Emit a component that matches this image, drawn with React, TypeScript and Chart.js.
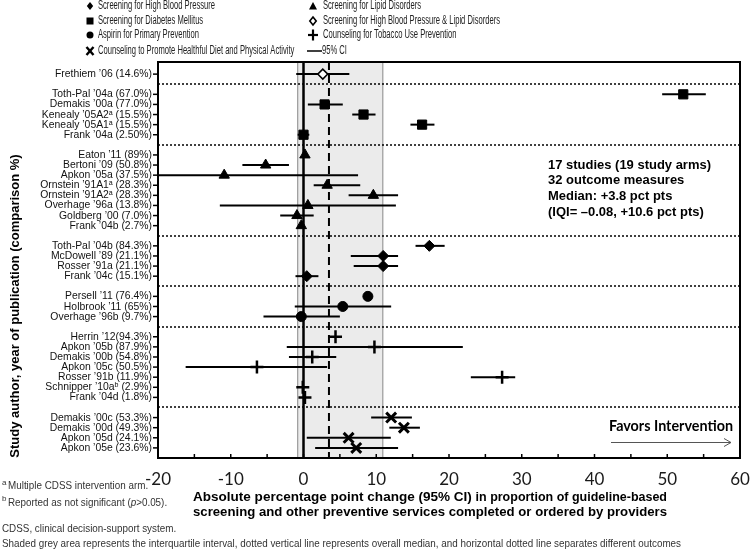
import React, { useEffect, useRef } from "react";
import { Chart, registerables } from "chart.js";

Chart.register(...registerables);

// ---------------- DATA ----------------
const rowLabels: string[] = [
  "Frethiem ’06 (14.6%)",
  "",
  "Toth-Pal ’04a (67.0%)",
  "Demakis ’00a (77.0%)",
  "Kenealy ’05A2ᵃ (15.5%)",
  "Kenealy ’05A1ᵃ (15.5%)",
  "Frank ’04a (2.50%)",
  "",
  "Eaton ’11 (89%)",
  "Bertoni ’09 (50.8%)",
  "Apkon ’05a (37.5%)",
  "Ornstein ’91A1ᵃ (28.3%)",
  "Ornstein ’91A2ᵃ (28.3%)",
  "Overhage ’96a (13.8%)",
  "Goldberg ’00 (7.0%)",
  "Frank ’04b (2.7%)",
  "",
  "Toth-Pal ’04b (84.3%)",
  "McDowell ’89 (21.1%)",
  "Rosser ’91a (21.1%)",
  "Frank ’04c (15.1%)",
  "",
  "Persell ’11 (76.4%)",
  "Holbrook ’11 (65%)",
  "Overhage ’96b (9.7%)",
  "",
  "Herrin ’12(94.3%)",
  "Apkon ’05b (87.9%)",
  "Demakis ’00b (54.8%)",
  "Apkon ’05c (50.5%)",
  "Rosser ’91b (11.9%)",
  "Schnipper ’10aᵇ (2.9%)",
  "Frank ’04d (1.8%)",
  "",
  "Demakis ’00c (53.3%)",
  "Demakis ’00d (49.3%)",
  "Apkon ’05d (24.1%)",
  "Apkon ’05e (23.6%)",
];

// outcome index per row (-1 = separator row)
const rowOutcome: number[] = [
  3, -1, 2, 2, 2, 2, 2, -1, 1, 1, 1, 1, 1, 1, 1, 1, -1, 0, 0, 0, 0, -1, 4, 4, 4, -1,
  5, 5, 5, 5, 5, 5, 5, -1, 6, 6, 6, 6,
];

const effect: (number | null)[] = [
  2.65, null, 52.2, 2.9, 8.25, 16.3, 0.0, null, 0.2, -5.2, -10.9, 3.25, 9.6, 0.6, -0.9, -0.3,
  null, 17.3, 10.95, 10.95, 0.45, null, 8.85, 5.4, -0.3, null, 4.4, 9.75, 1.2, -6.4, 27.3, -0.1,
  0.2, null, 12.05, 13.8, 6.2, 7.25,
];

const ciLow: (number | null)[] = [
  -1.0, null, 49.3, 0.6, 6.7, 14.7, -0.8, null, null, -8.4, -20, 1.4, 6.2, -11.5, -3.2, null,
  null, 15.4, 6.5, 6.9, -1.1, null, null, -1.2, -5.5, null, null, -2.3, -2.0, -16.2, 23.0, null,
  null, null, 9.3, 11.8, 0.45, 1.6,
];

const ciHigh: (number | null)[] = [
  6.3, null, 55.3, 5.4, 9.9, 18.0, 0.8, null, null, -2.0, 7.5, 7.8, 13.0, 12.7, 1.4, null,
  null, 19.4, 13.0, 13.0, 2.05, null, null, 12.05, 5.0, null, null, 21.9, 4.5, 3.25, 29.1, null,
  null, null, 14.9, 16.0, 12.0, 13.0,
];

const outcomeNames: string[] = [
  "Screening for High Blood Pressure",
  "Screening for Lipid Disorders",
  "Screening for Diabetes Mellitus",
  "Screening for High Blood Pressure & Lipid Disorders",
  "Aspirin for Primary Prevention",
  "Counseling for Tobacco Use Prevention",
  "Counseling to Promote Healthful Diet and Physical Activity",
];
const ciLegendLabel = "95% CI";

const medianLine = 3.5;
const shadeRange: number[] = [-0.8, 10.9];
const xTickLabels: number[] = [-20, -10, 0, 10, 20, 30, 40, 50, 60];

const summaryLines: string[] = [
  "17 studies (19 study arms)",
  "32 outcome measures",
  "Median: +3.8 pct pts",
  "(IQI= –0.08, +10.6 pct pts)",
];

const yTitle = "Study author, year of publication (comparison %)";
const xTitleA = "Absolute percentage point change (95% CI) ";
const xTitleB = "in proportion of guideline-based";
const xTitle2 = "screening and other preventive services completed or ordered by providers";
const favorsText = "Favors Intervention";
const footA = "Multiple CDSS intervention arm.";
const footB1 = "Reported as not significant (";
const footB2 = "p";
const footB3 = ">0.05).";
const footC = "CDSS, clinical decision-support system.";
const footD =
  "Shaded grey area represents the interquartile interval, dotted vertical line represents overall median, and horizontal dotted line separates different outcomes";

// ---------------- STYLES ----------------
const STYLE = [
  { shape: "rectRot", r: 5.5, fill: "#000", bw: 1 },
  { shape: "triangle", r: 6, fill: "#000", bw: 1 },
  { shape: "rect", r: 6.5, fill: "#000", bw: 1 },
  { shape: "rectRot", r: 5, fill: "#fff", bw: 1.5 },
  { shape: "circle", r: 5, fill: "#000", bw: 1 },
  { shape: "cross", r: 6.5, fill: "#000", bw: 2.5 },
  { shape: "crossRot", r: 7, fill: "#000", bw: 3 },
];

const SANS = "'Liberation Sans', Arial, sans-serif";

function fitScale(ctx: CanvasRenderingContext2D, text: string, font: string, target: number) {
  ctx.save();
  ctx.font = font;
  const w = ctx.measureText(text).width;
  ctx.restore();
  return w > 0 ? target / w : 1;
}

function drawText(
  ctx: CanvasRenderingContext2D,
  text: string,
  x: number,
  y: number,
  font: string,
  sx = 1,
  align: CanvasTextAlign = "left",
  color = "#000"
) {
  ctx.save();
  ctx.font = font;
  ctx.fillStyle = color;
  ctx.textAlign = align;
  ctx.textBaseline = "middle";
  ctx.translate(x, y);
  ctx.scale(sx, 1);
  ctx.fillText(text, 0, 0);
  const w = ctx.measureText(text).width * sx;
  ctx.restore();
  return w;
}

function line(ctx: CanvasRenderingContext2D, x1: number, y1: number, x2: number, y2: number) {
  ctx.beginPath();
  ctx.moveTo(x1, y1);
  ctx.lineTo(x2, y2);
  ctx.stroke();
}

function legendMarker(ctx: CanvasRenderingContext2D, k: number, x: number, y: number) {
  ctx.save();
  ctx.fillStyle = "#000";
  ctx.strokeStyle = "#000";
  ctx.beginPath();
  if (k === 0 || k === 3) {
    const r = 4;
    ctx.moveTo(x, y - r);
    ctx.lineTo(x + r * 0.8, y);
    ctx.lineTo(x, y + r);
    ctx.lineTo(x - r * 0.8, y);
    ctx.closePath();
    if (k === 0) ctx.fill();
    else {
      ctx.fillStyle = "#fff";
      ctx.fill();
      ctx.lineWidth = 1.6;
      ctx.stroke();
    }
  } else if (k === 1) {
    ctx.moveTo(x, y - 4);
    ctx.lineTo(x + 4, y + 3.5);
    ctx.lineTo(x - 4, y + 3.5);
    ctx.closePath();
    ctx.fill();
  } else if (k === 2) {
    ctx.fillRect(x - 3.5, y - 3.5, 7, 7);
  } else if (k === 4) {
    ctx.arc(x, y, 3.5, 0, Math.PI * 2);
    ctx.fill();
  } else if (k === 5) {
    ctx.lineWidth = 2.2;
    line(ctx, x - 5, y, x + 5, y);
    line(ctx, x, y - 5.5, x, y + 5.5);
  } else if (k === 6) {
    ctx.lineWidth = 2.4;
    line(ctx, x - 3.5, y - 4, x + 3.5, y + 4);
    line(ctx, x + 3.5, y - 4, x - 3.5, y + 4);
  }
  ctx.restore();
}

const decoPlugin = {
  id: "deco",
  beforeDatasetsDraw(chart: any) {
    const { ctx, chartArea: a, scales } = chart;
    const xs = scales.x;
    const ys = scales.y;
    ctx.save();
    // shaded IQR
    const s0 = xs.getPixelForValue(shadeRange[0]);
    const s1 = xs.getPixelForValue(shadeRange[1]);
    ctx.fillStyle = "#ebebeb";
    ctx.fillRect(s0, a.top, s1 - s0, a.bottom - a.top);
    ctx.strokeStyle = "#9a9a9a";
    ctx.lineWidth = 1.2;
    line(ctx, s0, a.top, s0, a.bottom);
    line(ctx, s1, a.top, s1, a.bottom);
    // separators
    ctx.strokeStyle = "#000";
    ctx.lineWidth = 1.5;
    ctx.setLineDash([2, 2]);
    rowOutcome.forEach((o, i) => {
      if (o < 0) {
        const py = Math.round(ys.getPixelForValue(i));
        line(ctx, a.left, py, a.right, py);
      }
    });
    // median dashed
    ctx.lineWidth = 2;
    ctx.setLineDash([8, 5]);
    const mx = xs.getPixelForValue(medianLine);
    line(ctx, mx, a.top, mx, a.bottom);
    // zero line
    ctx.setLineDash([]);
    ctx.lineWidth = 2.5;
    const zx = xs.getPixelForValue(0);
    line(ctx, zx, a.top, zx, a.bottom);
    // CIs
    ctx.lineWidth = 2;
    ctx.beginPath();
    ctx.rect(a.left, a.top, a.right - a.left, a.bottom - a.top);
    ctx.clip();
    rowLabels.forEach((_, i) => {
      const lo = ciLow[i];
      const hi = ciHigh[i];
      if (lo === null || hi === null) return;
      const py = ys.getPixelForValue(i);
      line(ctx, xs.getPixelForValue(lo), py, xs.getPixelForValue(hi), py);
    });
    ctx.restore();
  },
  afterDatasetsDraw(chart: any) {
    const { ctx, chartArea: a, scales } = chart;
    const xs = scales.x;
    const ys = scales.y;
    ctx.save();
    // border
    ctx.strokeStyle = "#000";
    ctx.lineWidth = 2;
    ctx.strokeRect(a.left, a.top, a.right - a.left, a.bottom - a.top);
    // y ticks + labels
    const labFont = `11px ${SANS}`;
    const labSx = fitScale(ctx, rowLabels[0], labFont, 97);
    ctx.lineWidth = 1.5;
    rowLabels.forEach((lab, i) => {
      if (!lab) return;
      const py = ys.getPixelForValue(i);
      line(ctx, a.left - 5, py, a.left, py);
      drawText(ctx, lab, a.left - 6, py, labFont, labSx, "right", "#111");
    });
    // x ticks
    for (let v = -15; v < 60; v += 5) {
      const px = xs.getPixelForValue(v);
      line(ctx, px, a.bottom, px, a.bottom - 4);
    }
    xTickLabels.forEach((v) => {
      drawText(ctx, String(v), xs.getPixelForValue(v), a.bottom + 22, "17px Lato, sans-serif", 1, "center", "#1a1a1a");
    });
    // x title
    const fA = `bold 13px ${SANS}`;
    const fB = `bold 12px ${SANS}`;
    ctx.font = fA;
    const wA = ctx.measureText(xTitleA).width;
    ctx.font = fB;
    const wB = ctx.measureText(xTitleB).width;
    const sc1 = 474 / (wA + wB);
    let tx = 430 - 237;
    tx += drawText(ctx, xTitleA, tx, a.bottom + 39, fA, sc1);
    drawText(ctx, xTitleB, tx, a.bottom + 40, fB, sc1);
    const sc2 = fitScale(ctx, xTitle2, fA, 474);
    drawText(ctx, xTitle2, 430, a.bottom + 54, fA, sc2, "center");
    // y title
    ctx.save();
    ctx.translate(15, 306);
    ctx.rotate(-Math.PI / 2);
    drawText(ctx, yTitle, 0, 0, `bold 13px ${SANS}`, 1, "center");
    ctx.restore();
    // summary text
    const sumFont = `bold 13px ${SANS}`;
    const sumSx = fitScale(ctx, summaryLines[0], sumFont, 163);
    summaryLines.forEach((s, i) => {
      drawText(ctx, s, 548, 165 + i * 15.7, sumFont, sumSx);
    });
    // favors intervention
    const favFont = "bold 15px Lato, sans-serif";
    const favSx = fitScale(ctx, favorsText, favFont, 124);
    drawText(ctx, favorsText, 609, 426, favFont, favSx);
    ctx.strokeStyle = "#555";
    ctx.lineWidth = 1;
    line(ctx, 611, 442.5, 731, 442.5);
    line(ctx, 731, 442.5, 724, 438.5);
    line(ctx, 731, 442.5, 724, 446.5);
    // legend
    const legFont = `12.5px ${SANS}`;
    const legSx = fitScale(ctx, outcomeNames[0], legFont, 117);
    const rowsY = [6, 21, 35, 51];
    const leftOrder = [0, 2, 4, 6];
    const rightOrder = [1, 3, 5];
    leftOrder.forEach((k, r) => {
      legendMarker(ctx, k, 90, rowsY[r]);
      drawText(ctx, outcomeNames[k], 98, rowsY[r], legFont, legSx, "left", "#222");
    });
    rightOrder.forEach((k, r) => {
      legendMarker(ctx, k, 313, rowsY[r]);
      drawText(ctx, outcomeNames[k], 323, rowsY[r], legFont, legSx, "left", "#222");
    });
    ctx.strokeStyle = "#000";
    ctx.lineWidth = 1.5;
    line(ctx, 307, rowsY[3], 322, rowsY[3]);
    drawText(ctx, ciLegendLabel, 322, rowsY[3], legFont, legSx, "left", "#222");
    // footnotes
    const fnFont = `11.5px ${SANS}`;
    const fnSx = fitScale(ctx, footD, fnFont, 679);
    const fnCol = "#333";
    drawText(ctx, "a", 2, 483, `8px ${SANS}`, 1, "left", fnCol);
    drawText(ctx, footA, 8, 486, fnFont, fnSx, "left", fnCol);
    drawText(ctx, "b", 2, 499, `8px ${SANS}`, 1, "left", fnCol);
    let fx = 8;
    fx += drawText(ctx, footB1, fx, 503, fnFont, fnSx, "left", fnCol);
    fx += drawText(ctx, footB2, fx, 503, `italic 11.5px ${SANS}`, fnSx, "left", fnCol);
    drawText(ctx, footB3, fx, 503, fnFont, fnSx, "left", fnCol);
    drawText(ctx, footC, 2, 529, fnFont, fnSx, "left", fnCol);
    drawText(ctx, footD, 2, 544, fnFont, fnSx, "left", fnCol);
    ctx.restore();
  },
};

export default function App() {
  const ref = useRef<HTMLCanvasElement>(null);
  useEffect(() => {
    const canvas = ref.current;
    if (!canvas) return;
    const datasets = outcomeNames.map((name, k) => ({
      label: name,
      data: rowLabels
        .map((_, i) => i)
        .filter((i) => rowOutcome[i] === k && effect[i] !== null)
        .map((i) => ({ x: effect[i] as number, y: i })),
      pointStyle: STYLE[k].shape as any,
      pointRadius: STYLE[k].r,
      pointHoverRadius: STYLE[k].r,
      backgroundColor: STYLE[k].fill,
      borderColor: "#000",
      borderWidth: STYLE[k].bw,
      showLine: false,
    }));
    const chart = new Chart(canvas, {
      type: "scatter",
      data: { datasets },
      options: {
        animation: false,
        responsive: false,
        devicePixelRatio: 1,
        events: [],
        layout: { padding: { left: 158, right: 10, top: 62, bottom: 94 } },
        scales: {
          x: { type: "linear", min: -20, max: 60, display: false },
          y: { type: "linear", min: -1.2, max: 38, reverse: true, display: false },
        },
        plugins: { legend: { display: false }, tooltip: { enabled: false } },
      },
      plugins: [decoPlugin],
    });
    return () => chart.destroy();
  }, []);
  return (
    <div style={{ position: "fixed", left: 0, top: 0, width: 750, height: 552, background: "#fff" }}>
      <canvas ref={ref} width={750} height={552} style={{ display: "block" }} />
    </div>
  );
}
